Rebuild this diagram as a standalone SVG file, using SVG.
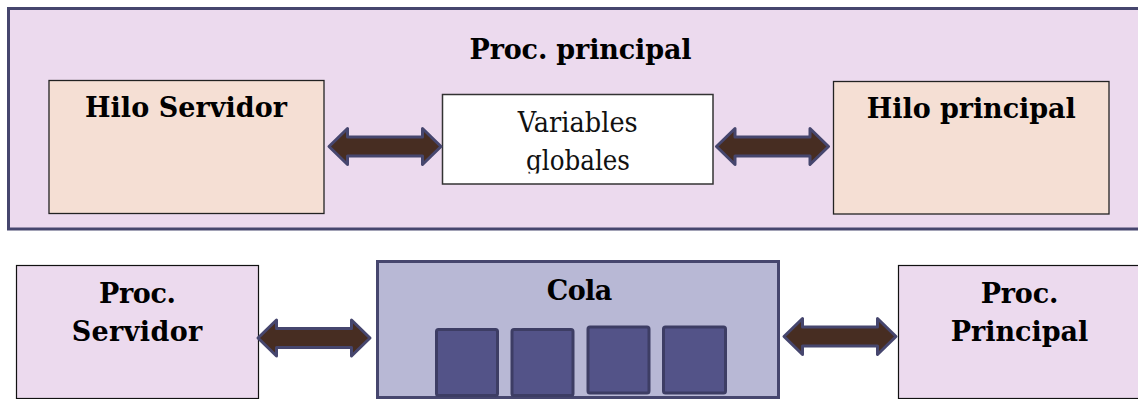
<svg xmlns="http://www.w3.org/2000/svg" xmlns:xlink="http://www.w3.org/1999/xlink" width="1138" height="399" viewBox="0 0 1138 399">
  <style>
    .bold { font-family: "DejaVu Serif", "Liberation Serif", serif; font-weight: bold; font-size: 27px; fill: #000; text-anchor: middle; }
    .plain { font-family: "DejaVu Serif", "Liberation Serif", serif; font-size: 27px; fill: #111; text-anchor: middle; }
    .frame { fill: #ecdaee; stroke: #46466e; stroke-width: 3; }
    .thread { fill: #f5dfd4; stroke: #222; stroke-width: 1.3; }
    .proc { fill: #ecdaee; stroke: #111; stroke-width: 1.2; }
    .vars { fill: #fff; stroke: #333; stroke-width: 1.5; }
    .queue { fill: #b8b8d5; stroke: #46466e; stroke-width: 3; }
    .slot { fill: #535388; stroke: #3d3d64; stroke-width: 3; }
    .link { fill: #472d22; stroke: #46466e; stroke-width: 3; stroke-linejoin: round; }
  </style>
  <defs>
    <!-- double-headed block arrow, 115 px long, centred on y = 0 -->
    <path id="dblArrow" d="M1.5,0 L20,-18 L20,-9.5 L95,-9.5 L95,-18 L113.5,0 L95,18 L95,9.5 L20,9.5 L20,18 Z"/>
    <clipPath id="varsClip">
      <rect x="443" y="95" width="270" height="78.5"/>
    </clipPath>
  </defs>

  <rect width="1138" height="399" fill="#ffffff"/>

  <!-- main process frame -->
  <g id="proc-principal-frame">
    <rect class="frame" x="8.5" y="8.5" width="1140" height="220.5"/>
    <text class="bold" x="580.5" y="59" textLength="222">Proc. principal</text>
  </g>

  <g id="hilo-servidor">
    <rect class="thread" x="49" y="80.5" width="275" height="133"/>
    <text class="bold" x="186" y="117" textLength="202">Hilo Servidor</text>
  </g>

  <g id="variables-globales">
    <rect class="vars" x="442.5" y="94.5" width="270.5" height="89.5"/>
    <g clip-path="url(#varsClip)">
      <text class="plain" x="577.7" y="131.7" textLength="120" lengthAdjust="spacingAndGlyphs">Variables</text>
      <text class="plain" x="578" y="170" textLength="104" lengthAdjust="spacingAndGlyphs">globales</text>
    </g>
  </g>

  <g id="hilo-principal">
    <rect class="thread" x="833.5" y="81.5" width="275.5" height="132.5"/>
    <text class="bold" x="971.3" y="118" textLength="209">Hilo principal</text>
  </g>

  <!-- lower row -->
  <g id="proc-servidor">
    <rect class="proc" x="16.5" y="265.5" width="242" height="133"/>
    <text class="bold" x="137.5" y="303.3" textLength="77">Proc.</text>
    <text class="bold" x="137" y="340.7" textLength="130.6">Servidor</text>
  </g>

  <g id="cola">
    <rect class="queue" x="377.5" y="261.5" width="401" height="136"/>
    <text class="bold" x="579.5" y="300" textLength="65.6">Cola</text>
    <rect class="slot" x="436.5" y="329.5" width="61" height="66" rx="2"/>
    <rect class="slot" x="512" y="329.5" width="61" height="66" rx="2"/>
    <rect class="slot" x="588" y="327" width="61" height="66" rx="2"/>
    <rect class="slot" x="663.5" y="327" width="62" height="66" rx="2"/>
  </g>

  <g id="proc-principal">
    <rect class="proc" x="898.5" y="265.5" width="245" height="133"/>
    <text class="bold" x="1019.5" y="303.3" textLength="77.6">Proc.</text>
    <text class="bold" x="1019.5" y="340.7" textLength="137.6">Principal</text>
  </g>

  <!-- connectors -->
  <g id="connectors">
    <use xlink:href="#dblArrow" class="link" transform="translate(327.5,146.5)"/>
    <use xlink:href="#dblArrow" class="link" transform="translate(715,146.5)"/>
    <use xlink:href="#dblArrow" class="link" transform="translate(256.5,338)"/>
    <use xlink:href="#dblArrow" class="link" transform="translate(782.5,336.5)"/>
  </g>
</svg>
